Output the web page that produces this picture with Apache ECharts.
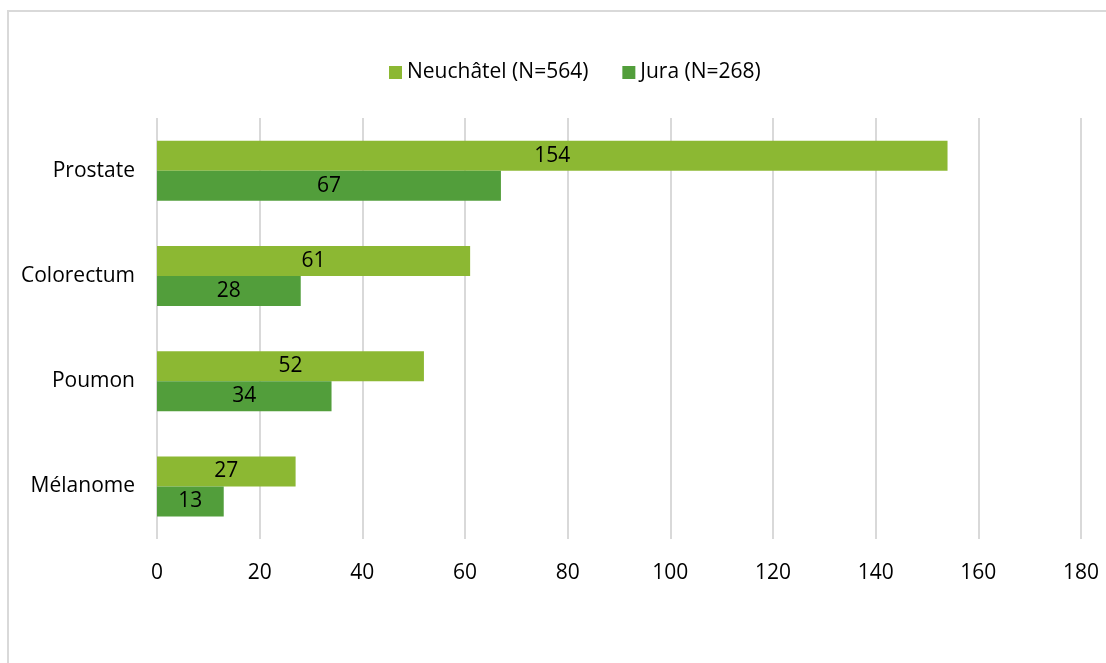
<!DOCTYPE html>
<html>
<head>
    <meta charset="utf-8">
    <title>Cancers</title>
    <style>
        body { margin: 0; background: #fff; }
        #frame { position: absolute; left: 7px; top: 10px; width: 1200px; height: 700px; border: 2px solid #d9d9d9; box-sizing: border-box; }
        #main { position: absolute; left: 0; top: 0; width: 1106px; height: 663px; }
    </style>
</head>
<body>
<div id="frame"></div>
<div id="main"></div>

<script src="https://cdn.jsdelivr.net/npm/echarts@6/dist/echarts.min.js"></script>
<script>
    var categories = ['Prostate', 'Colorectum', 'Poumon', 'Mélanome'];
    var neuchatel = [154, 61, 52, 27];
    var jura = [67, 28, 34, 13];
    var seriesNames = ['Neuchâtel (N=564)', 'Jura (N=268)'];

    var font = '"Open Sans", sans-serif';
    var myChart = echarts.init(document.getElementById('main'));

    myChart.setOption({
        animation: false,
        textStyle: { fontFamily: font },
        legend: {
            top: 57,
            left: 384,
            itemWidth: 13,
            itemHeight: 13,
            itemGap: 34,
            icon: 'rect',
            textStyle: { fontSize: 21, color: '#000', fontFamily: font },
            data: seriesNames
        },
        grid: { left: 157, right: 25, top: 118, bottom: 124 },
        xAxis: {
            type: 'value',
            min: 0,
            max: 180,
            interval: 20,
            axisLine: { show: false },
            axisTick: { show: false },
            axisLabel: { fontSize: 21, color: '#000', margin: 24, fontFamily: font },
            splitLine: { lineStyle: { color: '#d9d9d9', width: 2 } }
        },
        yAxis: {
            type: 'category',
            inverse: true,
            data: categories,
            axisLine: { show: false },
            axisTick: { show: false },
            axisLabel: { fontSize: 21, color: '#000', margin: 22, padding: [3, 0, 0, 0], fontFamily: font }
        },
        series: [
            {
                name: seriesNames[0],
                type: 'bar',
                data: neuchatel,
                barWidth: 30,
                barGap: '0%',
                itemStyle: { color: '#8cb833' },
                label: { show: true, position: 'inside', fontSize: 21, color: '#000', padding: [3, 0, 0, 0], fontFamily: font }
            },
            {
                name: seriesNames[1],
                type: 'bar',
                data: jura,
                barWidth: 30,
                barGap: '0%',
                itemStyle: { color: '#529e3b' },
                label: { show: true, position: 'inside', fontSize: 21, color: '#000', padding: [3, 0, 0, 0], fontFamily: font }
            }
        ]
    });
</script>
</body>
</html>
